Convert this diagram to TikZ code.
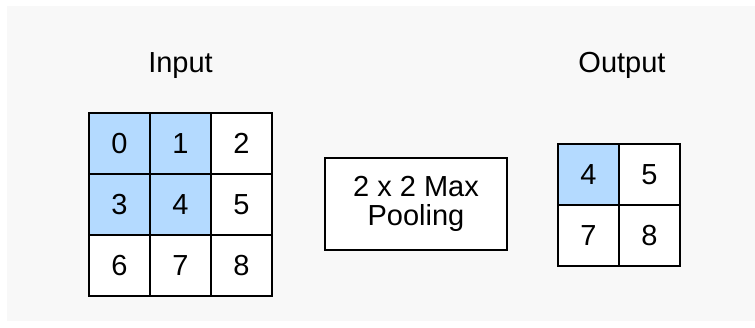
\documentclass[tikz,border=0pt]{standalone}
\usepackage{fontspec}
\setmainfont{Liberation Sans}
\definecolor{bgcol}{RGB}{248,248,248}
\definecolor{cellblue}{RGB}{180,218,255}
\begin{document}
\begin{tikzpicture}[x=1pt,y=-1pt,
  cell/.style={draw=black,line width=2.6pt,fill=white,minimum width=61pt,minimum height=61pt,inner sep=0pt,outer sep=0pt,font=\fontsize{29}{34}\selectfont},
  hl/.style={fill=cellblue},
  lbl/.style={font=\fontsize{29}{34}\selectfont,inner sep=0pt},
  opbox/.style={draw=black,line width=2.6pt,fill=white,minimum width=182pt,minimum height=92pt,inner sep=0pt,align=center,font=\fontsize{29}{29}\selectfont}]
\useasboundingbox (0,0) rectangle (755,327);
\fill[bgcol] (7,6) rectangle (755,321);
% input grid
\node[cell,hl] (i0) at (119.5,143.5) {0};
\node[cell,hl] (i1) at (180.5,143.5) {1};
\node[cell]    (i2) at (241.5,143.5) {2};
\node[cell,hl] (i3) at (119.5,204.5) {3};
\node[cell,hl] (i4) at (180.5,204.5) {4};
\node[cell]    (i5) at (241.5,204.5) {5};
\node[cell]    (i6) at (119.5,265.5) {6};
\node[cell]    (i7) at (180.5,265.5) {7};
\node[cell]    (i8) at (241.5,265.5) {8};
% output grid
\node[cell,hl] (o4) at (588.5,174.5) {4};
\node[cell]    (o5) at (649.5,174.5) {5};
\node[cell]    (o7) at (588.5,235.5) {7};
\node[cell]    (o8) at (649.5,235.5) {8};
% operation box
\node[opbox] (pool) at (416,204) {2 x 2 Max\\Pooling};
% titles
\node[lbl,anchor=base] (tin) at (180.5,72) {Input};
\node[lbl,anchor=base] (tout) at (622,72) {Output};
\end{tikzpicture}
\end{document}
